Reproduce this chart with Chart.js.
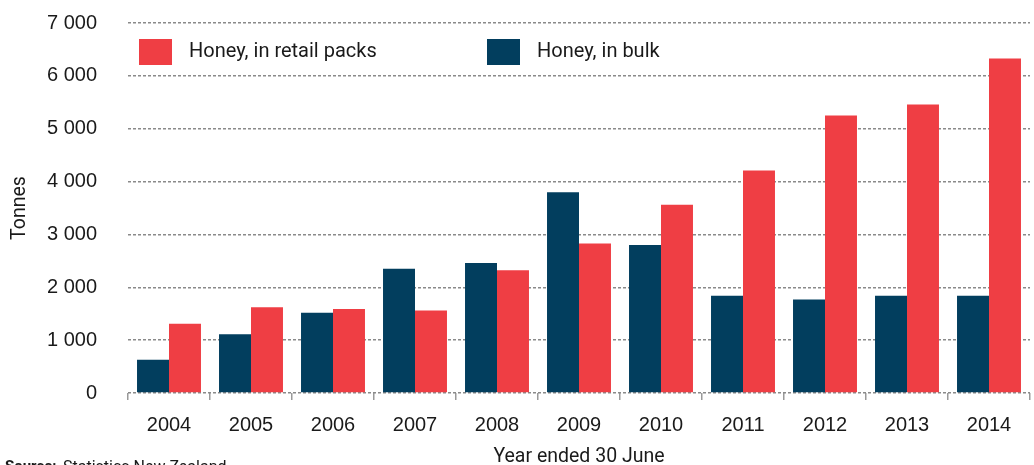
<!DOCTYPE html>
<html>
<head>
<meta charset="utf-8">
<script src="https://cdn.jsdelivr.net/npm/chart.js@4/dist/chart.umd.min.js"></script>
<style>
  html, body { margin: 0; padding: 0; background: #fff; overflow: hidden; }
  #wrap { position: relative; width: 1034px; height: 465px; }
</style>
</head>
<body>
<div id="wrap"><canvas id="c"></canvas></div>
<script>
const years = ['2004','2005','2006','2007','2008','2009','2010','2011','2012','2013','2014'];
const bulkTonnes = [630, 1110, 1520, 2350, 2460, 3800, 2800, 1840, 1770, 1840, 1840];
const retailTonnes = [1310, 1620, 1590, 1560, 2320, 2830, 3560, 4210, 5250, 5460, 6330];
const yTicks = [0, 1000, 2000, 3000, 4000, 5000, 6000, 7000];
const seriesNames = ['Honey, in bulk', 'Honey, in retail packs'];
const legendOrder = [1, 0];
const RED = '#ef3e44';
const NAVY = '#023e5e';
const NARROW = 'Roboto, "Liberation Sans", Arial, sans-serif';
const SANS = '"Liberation Sans", Arial, sans-serif';

function fmt(v) { return String(v).replace(/\B(?=(\d{3})+(?!\d))/g, ' '); }

const insideLegend = {
  id: 'insideLegend',
  afterDraw(chart) {
    const ctx = chart.ctx;
    const area = chart.chartArea;
    const xs = [area.left + 11, area.left + 359];
    ctx.save();
    ctx.font = '20px ' + NARROW;
    ctx.textBaseline = 'middle';
    ctx.textAlign = 'left';
    legendOrder.forEach((di, i) => {
      const ds = chart.data.datasets[di];
      const x = xs[i];
      const y = area.top + 16;
      ctx.fillStyle = ds.backgroundColor;
      ctx.fillRect(x, y, 33, 26);
      ctx.fillStyle = '#1a1a1a';
      ctx.fillText(ds.label, x + 50, y + 13);
    });
    ctx.restore();
  }
};

const sourceNote = {
  id: 'sourceNote',
  afterDraw(chart) {
    const ctx = chart.ctx;
    ctx.save();
    ctx.textBaseline = 'top';
    ctx.textAlign = 'left';
    ctx.fillStyle = '#1a1a1a';
    ctx.font = 'bold 15px ' + NARROW;
    ctx.fillText('Source:', 5, 460);
    ctx.font = '16px ' + NARROW;
    ctx.fillText('Statistics New Zealand', 63, 460);
    ctx.restore();
  }
};

new Chart(document.getElementById('c'), {
  type: 'bar',
  data: {
    labels: years,
    datasets: [
      { label: seriesNames[0], data: bulkTonnes, backgroundColor: NAVY,
        categoryPercentage: 0.78, barPercentage: 1.0, borderWidth: 0 },
      { label: seriesNames[1], data: retailTonnes, backgroundColor: RED,
        categoryPercentage: 0.78, barPercentage: 1.0, borderWidth: 0 }
    ]
  },
  options: {
    responsive: true,
    maintainAspectRatio: false,
    animation: false,
    layout: { padding: { top: 23, right: 4, left: 0, bottom: 0 } },
    plugins: {
      legend: { display: false },
      tooltip: { enabled: false }
    },
    scales: {
      x: {
        offset: true,
        grid: { display: true, offset: true, drawOnChartArea: false, drawTicks: true,
                tickLength: 7, color: '#9a9a9a', lineWidth: 1.5 },
        border: { display: false },
        ticks: { color: '#1a1a1a', font: { family: SANS, size: 20 }, padding: 13, maxRotation: 0 },
        title: { display: true, text: 'Year ended 30 June', color: '#1a1a1a',
                 font: { family: NARROW, size: 19.5, lineHeight: 1 }, padding: { top: 0, bottom: -2 } },
        afterFit(scale) { scale.height = 72; }
      },
      y: {
        min: 0, max: 7000,
        afterBuildTicks(scale) { scale.ticks = yTicks.map(v => ({ value: v })); },
        grid: { color: '#8a8a8a', lineWidth: 1.5, drawTicks: true, tickLength: 28,
                tickColor: 'rgba(0,0,0,0)' },
        border: { display: false, dash: [3, 2] },
        ticks: { color: '#1a1a1a', font: { family: SANS, size: 20 }, padding: 3,
                 callback: (v) => fmt(v) },
        title: { display: true, text: 'Tonnes', color: '#1a1a1a',
                 font: { family: NARROW, size: 19.5 }, padding: { top: 8, bottom: 0 } },
        afterFit(scale) { scale.width = 128; }
      }
    }
  },
  plugins: [insideLegend, sourceNote]
});
</script>
</body>
</html>
